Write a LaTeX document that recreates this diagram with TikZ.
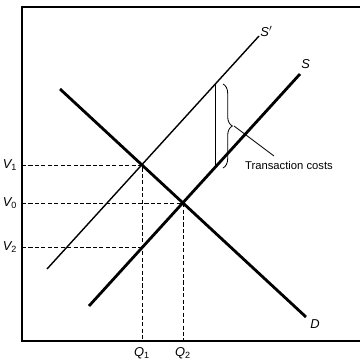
\documentclass[tikz,border=0pt]{standalone}
\usepackage{fontspec}
\setmainfont{Liberation Sans}
\usetikzlibrary{decorations.pathreplacing, calc}

\begin{document}
\begin{tikzpicture}[x=0.03cm, y=-0.03cm,
  curve/.style={line width=2.4pt},
  shifted/.style={line width=1.2pt},
  guide/.style={dash pattern=on 3.5pt off 2pt, line width=0.85pt},
  lbl/.style={font=\fontsize{11}{13}\selectfont\itshape, inner sep=1pt}]
  \useasboundingbox (0,0) rectangle (360,364);

  % frame
  \draw[line width=1.2pt] (360,7) -- (22,7) -- (22,341) -- (360,341);

  % points of the curves
  \coordinate (d0) at (60,89);
  \coordinate (d1) at (306,317);
  \coordinate (s0) at (89,306);
  \coordinate (s1) at (300,74);
  \coordinate (p0) at (47,269);
  \coordinate (p1) at (259,36);
  \coordinate (e1) at (142,165);
  \coordinate (e0) at (183,203);
  \coordinate (e2) at (142,247);

  % demand and supply
  \draw[curve] (d0) -- (d1);
  \draw[curve] (s0) -- (s1);
  \draw[shifted] (p0) -- (p1);
  \node[lbl, anchor=south west] (ls) at (300,70) {S};
  \node[lbl, anchor=south west] (lp) at (259,38) {S$'$};
  \node[lbl, anchor=north west] (ld) at (309,318) {D};

  % guides to the axes
  \coordinate (a1) at (22,165);
  \coordinate (a0) at (22,203);
  \coordinate (a2) at (22,247);
  \coordinate (b1) at (142,341);
  \coordinate (b0) at (183,341);
  \draw[guide] (a1) -- (e1) -- (b1);
  \draw[guide] (a0) -- (e0) -- (b0);
  \draw[guide] (a2) -- (e2);
  \node[lbl] (v1) at (10,165) {V\textsubscript{\upshape 1}};
  \node[lbl] (v0) at (10,203) {V\textsubscript{\upshape 0}};
  \node[lbl] (v2) at (10,247) {V\textsubscript{\upshape 2}};
  \node[lbl] (q1) at (142,353) {Q\textsubscript{\upshape 1}};
  \node[lbl] (q2) at (183,353) {Q\textsubscript{\upshape 2}};

  % transaction costs
  \coordinate (t0) at (215,85);
  \coordinate (t1) at (215,168);
  \draw[line width=0.7pt] (t0) -- (t1);
  \draw[line width=0.7pt, decorate, decoration={brace, amplitude=8pt}]
    (223,84) -- (223,168);
  \coordinate (tip) at (234,126);
  \node[font=\fontsize{9.6}{11}\selectfont, inner sep=1pt] (tc) at (289,165) {Transaction costs};
  \coordinate (lead) at (274,156);
  \draw[line width=0.7pt] (tip) -- (lead);
\end{tikzpicture}
\end{document}
